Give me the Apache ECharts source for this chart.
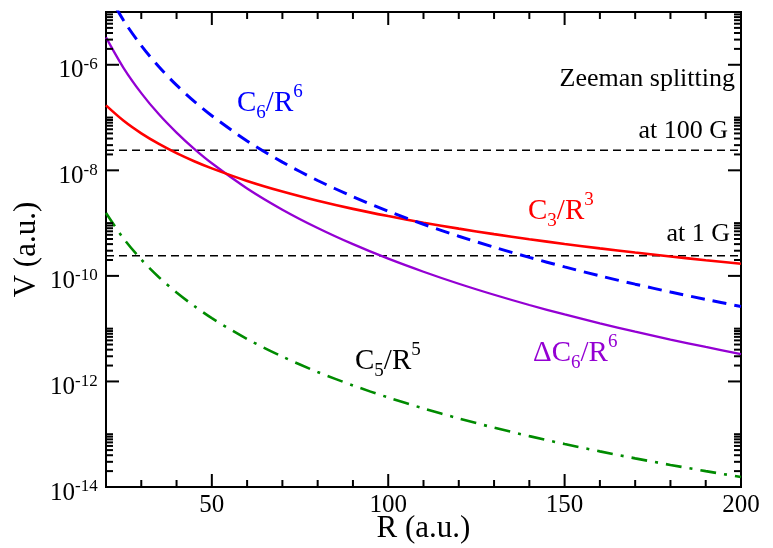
<!DOCTYPE html>
<html>
<head>
<meta charset="utf-8">
<script src="https://cdn.jsdelivr.net/npm/echarts/dist/echarts.min.js"></script>
<style>
  html, body { margin: 0; padding: 0; background: #fff; }
  #chart { width: 773px; height: 548px; }
</style>
</head>
<body>
<div id="chart"></div>
<script>
// Interatomic separation R (a.u.)
var radius = [20, 25, 30, 35, 40, 45, 50, 60, 70, 80, 90, 100, 110, 120, 130, 140, 150, 160, 170, 180, 190, 200];

// Potential energy V (a.u.) for each term
var c3Term = [1.70e-7, 8.69e-8, 5.03e-8, 3.17e-8, 2.12e-8, 1.49e-8, 1.09e-8, 6.29e-9, 3.96e-9, 2.65e-9, 1.86e-9,
              1.36e-9, 1.02e-9, 7.86e-10, 6.18e-10, 4.95e-10, 4.03e-10, 3.32e-10, 2.77e-10, 2.33e-10, 1.98e-10, 1.70e-10];
var c6Term = [2.63e-5, 6.90e-6, 2.31e-6, 9.16e-7, 4.11e-7, 2.03e-7, 1.08e-7, 3.61e-8, 1.43e-8, 6.42e-9, 3.17e-9,
              1.68e-9, 9.50e-10, 5.64e-10, 3.49e-10, 2.24e-10, 1.48e-10, 1.00e-10, 6.97e-11, 4.95e-11, 3.58e-11, 2.63e-11];
var dC6Term = [3.31e-6, 8.68e-7, 2.91e-7, 1.15e-7, 5.18e-8, 2.55e-8, 1.36e-8, 4.54e-9, 1.80e-9, 8.09e-10, 3.99e-10,
               2.12e-10, 1.20e-10, 7.10e-11, 4.39e-11, 2.81e-11, 1.86e-11, 1.26e-11, 8.78e-12, 6.23e-12, 4.51e-12, 3.31e-12];
var c5Term = [1.55e-9, 5.07e-10, 2.04e-10, 9.44e-11, 4.84e-11, 2.69e-11, 1.58e-11, 6.37e-12, 2.95e-12, 1.51e-12, 8.40e-13,
              4.96e-13, 3.08e-13, 1.99e-13, 1.33e-13, 9.21e-14, 6.53e-14, 4.73e-14, 3.49e-14, 2.62e-14, 2.00e-14, 1.55e-14];

// Zeeman splitting reference levels
var zeeman100G = 2.4e-8;
var zeeman1G = 2.4e-10;

// Axis ranges and ticks
var xRange = [20, 200];
var yRange = [1e-14, 1e-5];
var xMajorTicks = [50, 100, 150];
var xMinorTicks = [30, 40, 60, 70, 80, 90, 110, 120, 130, 140, 160, 170, 180, 190];
var yMajorTicks = [1e-14, 1e-12, 1e-10, 1e-8, 1e-6];
var yMinorMultipliers = [2, 3, 4, 5, 6, 7, 8, 9, 10];

var SERIF = "'Liberation Serif', 'Times New Roman', serif";

function pairs(xs, ys) {
  return xs.map(function (x, i) { return [x, ys[i]]; });
}

// Tick marks drawn inward on all four sides of the frame: [x, y, kind]
// kind: 0 bottom major, 1 bottom minor, 2 top major, 3 top minor,
//       4 left major, 5 left minor, 6 right major, 7 right minor
var tickData = [];
xMajorTicks.forEach(function (v) { tickData.push([v, yRange[0], 0]); tickData.push([v, yRange[1], 2]); });
xMinorTicks.forEach(function (v) { tickData.push([v, yRange[0], 1]); tickData.push([v, yRange[1], 3]); });
yMajorTicks.forEach(function (v) {
  if (v > yRange[0]) { tickData.push([xRange[0], v, 4]); tickData.push([xRange[1], v, 6]); }
  yMinorMultipliers.forEach(function (m) {
    var t = v * m;
    if (t < yRange[1] * 0.999) { tickData.push([xRange[0], t, 5]); tickData.push([xRange[1], t, 7]); }
  });
});

var MAJOR_LEN = 13, MINOR_LEN = 7;

function renderTick(params, api) {
  var p = api.coord([api.value(0), api.value(1)]);
  var kind = api.value(2);
  var len = (kind % 2 === 0) ? MAJOR_LEN : MINOR_LEN;
  var dx = 0, dy = 0;
  if (kind <= 1) dy = -len;
  else if (kind <= 3) dy = len;
  else if (kind <= 5) dx = len;
  else dx = -len;
  return {
    type: 'line',
    shape: { x1: p[0], y1: p[1], x2: p[0] + dx, y2: p[1] + dy },
    style: { stroke: '#000', lineWidth: 2 }
  };
}

var labelRich = {
  b: { fontSize: 29, lineHeight: 40, verticalAlign: 'middle', fontFamily: SERIF },
  sup: { fontSize: 19, lineHeight: 19, verticalAlign: 'top', fontFamily: SERIF },
  sub: { fontSize: 19, lineHeight: 19, verticalAlign: 'bottom', fontFamily: SERIF }
};

function termLabel(x, y, text, color) {
  return {
    type: 'text', x: x, y: y, z: 100,
    style: {
      text: text, fill: color, align: 'left', verticalAlign: 'middle',
      rich: {
        b: Object.assign({}, labelRich.b, { fill: color }),
        sup: Object.assign({}, labelRich.sup, { fill: color }),
        sub: Object.assign({}, labelRich.sub, { fill: color })
      }
    }
  };
}

function plainLabel(x, y, text) {
  return {
    type: 'text', x: x, y: y, z: 100,
    style: { text: text, fill: '#000', align: 'right', verticalAlign: 'middle', fontSize: 26, fontFamily: SERIF }
  };
}

var chart = echarts.init(document.getElementById('chart'), null, { renderer: 'canvas' });

chart.setOption({
  animation: false,
  backgroundColor: '#fff',
  grid: {
    left: 106, right: 32, top: 12, bottom: 61, containLabel: false, outerBoundsMode: 'none',
    show: true, borderColor: '#000', borderWidth: 2, backgroundColor: 'transparent'
  },
  xAxis: {
    type: 'value', min: xRange[0], max: xRange[1], interval: 10,
    name: 'R (a.u.)', nameLocation: 'middle', nameGap: 26, nameMoveOverlap: false,
    nameTextStyle: { fontSize: 31, fontFamily: SERIF, color: '#000' },
    axisLine: { show: false }, axisTick: { show: false }, splitLine: { show: false },
    axisLabel: {
      margin: 6, color: '#000', fontSize: 25, fontFamily: SERIF,
      formatter: function (v) { return v % 50 === 0 ? String(v) : ''; }
    }
  },
  yAxis: {
    type: 'log', logBase: 10, min: yRange[0], max: yRange[1],
    name: 'V (a.u.)', nameLocation: 'middle', nameGap: 64, nameRotate: 90, nameMoveOverlap: false,
    nameTextStyle: { fontSize: 31, fontFamily: SERIF, color: '#000' },
    axisLine: { show: false }, axisTick: { show: false }, splitLine: { show: false },
    axisLabel: {
      margin: 8, color: '#000',
      formatter: function (v) {
        var e = Math.round(Math.log10(v));
        if (e % 2 !== 0) return '';
        return '{b|10}{s|' + e + '}{z| }';
      },
      rich: {
        b: { fontSize: 25, lineHeight: 25, verticalAlign: 'bottom', fontFamily: SERIF, color: '#000' },
        s: { fontSize: 17, lineHeight: 17, verticalAlign: 'middle', fontFamily: SERIF, color: '#000' },
        z: { fontSize: 1, lineHeight: 37, verticalAlign: 'middle', fontFamily: SERIF }
      }
    }
  },
  series: [
    {
      name: 'at 100 G', type: 'line', data: [[xRange[0], zeeman100G], [xRange[1], zeeman100G]],
      symbol: 'none', lineStyle: { color: '#000', width: 1.6, type: [8, 5] }, z: 2
    },
    {
      name: 'at 1 G', type: 'line', data: [[xRange[0], zeeman1G], [xRange[1], zeeman1G]],
      symbol: 'none', lineStyle: { color: '#000', width: 1.6, type: [8, 5] }, z: 2
    },
    {
      name: 'C5/R5', type: 'line', data: pairs(radius, c5Term), smooth: 0.3,
      symbol: 'none', lineStyle: { color: '#008b00', width: 2.6, type: [16, 8, 3, 8] }, z: 3
    },
    {
      name: 'dC6/R6', type: 'line', data: pairs(radius, dC6Term), smooth: 0.3,
      symbol: 'none', lineStyle: { color: '#9400d3', width: 2.3 }, z: 4
    },
    {
      name: 'C3/R3', type: 'line', data: pairs(radius, c3Term), smooth: 0.3,
      symbol: 'none', lineStyle: { color: '#ff0000', width: 2.6 }, z: 5
    },
    {
      name: 'C6/R6', type: 'line', data: pairs(radius, c6Term), smooth: 0.3, clip: true,
      symbol: 'none', lineStyle: { color: '#0000ff', width: 3, type: [14, 8] }, z: 6
    },
    {
      name: 'ticks', type: 'custom', data: tickData, renderItem: renderTick,
      encode: { x: 0, y: 1 }, silent: true, z: 10, clip: false
    }
  ],
  graphic: [
    termLabel(237, 103, '{b|C}{sub|6}{b|/R}{sup|6}', '#0000ff'),
    termLabel(528, 211, '{b|C}{sub|3}{b|/R}{sup|3}', '#ff0000'),
    termLabel(355, 361, '{b|C}{sub|5}{b|/R}{sup|5}', '#000000'),
    termLabel(533, 353, '{b|\u0394C}{sub|6}{b|/R}{sup|6}', '#9400d3'),
    plainLabel(735, 79, 'Zeeman splitting'),
    plainLabel(728, 131, 'at 100 G'),
    plainLabel(730, 234, 'at 1 G')
  ]
});
</script>
</body>
</html>
